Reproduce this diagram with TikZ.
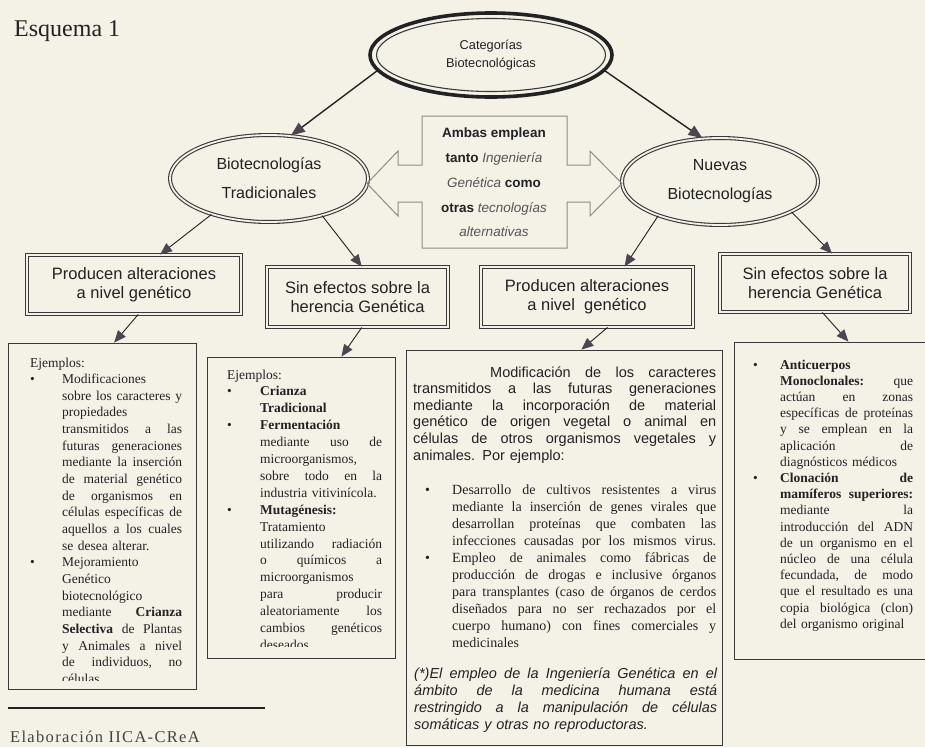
\documentclass[tikz,border=0pt]{standalone}
\usepackage{fontspec}
\setmainfont{Liberation Serif}
\setsansfont{Liberation Sans}
\usetikzlibrary{shapes.geometric,arrows.meta,calc}
\setlength\parindent{0pt}
\definecolor{bg}{HTML}{F4F1E7}
\definecolor{ink}{HTML}{222222}
\definecolor{edge}{HTML}{3A3838}
\definecolor{tipc}{HTML}{4E4452}
\definecolor{boxg}{HTML}{8E8C88}
\definecolor{itg}{HTML}{555555}
\ExplSyntaxOn
\seq_new:N \l_my_words_seq
\NewDocumentCommand \Jl { m m }
  {
    \mode_leave_vertical:
    \seq_set_split:Nnn \l_my_words_seq { ~ } { #2 }
    \hbox_to_wd:nn { #1 pt } { \seq_use:Nn \l_my_words_seq { \hskip 0.2em plus 1fill \relax } }
  }
\ExplSyntaxOff
\newcommand{\Ll}[2]{\leavevmode\makebox[#1pt][l]{#2}}
\newcommand{\Bu}[1]{\leavevmode\makebox[#1pt][l]{\textbullet}}
\newcommand{\Sk}[1]{\hspace*{#1pt}}
\tikzset{
  arr/.style={draw=ink, line width=0.9pt, -{Triangle[length=12pt,width=10pt,fill=tipc,color=tipc]}},
  toparr/.style={arr, line width=1.4pt, -{Triangle[length=14pt,width=11pt,fill=tipc,color=tipc]}},
  titlebox/.style={rectangle, draw=edge, line width=0.9pt, double=bg, double distance=2.2pt, inner sep=0pt,
    font=\sffamily\fontsize{16.5}{19}\selectfont, align=center, text=ink},
  ell/.style={ellipse, draw=edge, line width=1.1pt, double=bg, double distance=1.8pt, inner sep=0pt,
    font=\sffamily\fontsize{16}{29}\selectfont, align=center, text=ink},
  exbox/.style={rectangle, draw=edge, line width=0.8pt, inner sep=0pt},
  body/.style={anchor=base west, inner sep=0pt, align=left, text=ink},
  ser/.style={body, font=\rmfamily\fontsize{13.5}{16.65}\selectfont},
}
\begin{document}
\begin{tikzpicture}[x=1pt,y=-1pt]
\useasboundingbox (0,0) rectangle (925,747);
\clip (0,0) rectangle (925,747);
\fill[bg] (0,0) rectangle (925,747);

% title
\node[anchor=base west, inner sep=0pt, text=ink, font=\rmfamily\fontsize{24}{24}\selectfont] (title) at (14,36) {Esquema 1};

% top ellipse
\node[ellipse, draw=ink, line width=3.6pt, minimum width=242pt, minimum height=84pt, inner sep=0pt,
      font=\sffamily\fontsize{12.8}{18}\selectfont, align=center, text=ink] (top) at (491,55) {Categorías\\Biotecnológicas};
\draw[line width=1.1pt, edge] (top.center) ellipse [x radius=114.5pt, y radius=36.5pt];

% second level ellipses
\node[ell, minimum width=198pt, minimum height=87pt] (left) at (269,178.5) {Biotecnologías\\Tradicionales};
\node[ell, minimum width=196pt, minimum height=87pt] (right) at (720,181.5) {Nuevas\\Biotecnologías};

% central double arrow box
\draw[boxg, line width=1pt, line join=miter]
  (422,116) -- (567,116) -- (567,165) -- (590,165) -- (590,151) -- (622,183.5) -- (590,216) -- (590,202)
  -- (567,202) -- (567,248) -- (422,248) -- (422,202) -- (398,202) -- (398,216) -- (367,183.5)
  -- (398,151) -- (398,165) -- (422,165) -- cycle;
\node[align=center, inner sep=0pt, text=ink, font=\sffamily\fontsize{13.5}{24.75}\selectfont] (amb) at (494,182.5)
  {\textbf{Ambas emplean}\\\textbf{tanto} \textcolor{itg}{\textit{Ingeniería}}\\\textcolor{itg}{\textit{Genética}} \textbf{como}\\\textbf{otras} \textcolor{itg}{\textit{tecnologías}}\\\textcolor{itg}{\textit{alternativas}}};

% title boxes
\node[titlebox, minimum width=214pt, minimum height=59pt] (t1) at (134,284.5) {Producen alteraciones\\a nivel genético};
\node[titlebox, minimum width=181pt, minimum height=60pt] (t2) at (357.5,297) {Sin efectos sobre la\\herencia Genética};
\node[titlebox, minimum width=212pt, minimum height=60pt] (t3) at (587,297) {Producen alteraciones\\a nivel \ genético};
\node[titlebox, minimum width=190pt, minimum height=58pt] (t4) at (815,283) {Sin efectos sobre la\\herencia Genética};

% example boxes
\node[exbox, minimum width=188pt, minimum height=346pt] (e1) at (102,516) {};
\node[exbox, minimum width=188pt, minimum height=301pt] (e2) at (301,507.5) {};
\node[exbox, minimum width=316pt, minimum height=395pt] (e3) at (564,547.5) {};
\node[exbox, minimum width=201pt, minimum height=317pt] (e4) at (834.5,500.5) {};

% arrows
\draw[toparr] (top.188) -- (left.63);
\draw[toparr] (top.352) -- (right.112);
\draw[arr] (left.212) -- (t1.49);
\draw[arr] (left.325) -- (t2.82);
\draw[arr] (right.209) -- (t3.39);
\draw[arr] (right.337) -- (t4.60);
\draw[arr] (t1.278) -- (e1.86);
\draw[arr] (t2.278) -- (e2.75);
\draw[arr] (t3.304) -- (e3.85);
\draw[arr] (t4.284) -- (e4.85);

% box 1 text
\begin{scope}
\clip (8,343) rectangle (196,680);
\node[ser, text width=152pt] (x1) at (30,367) {Ejemplos:\\
\Bu{32}\Ll{120}{Modificaciones}\\
\Sk{32}\Jl{120}{sobre los caracteres y}\\
\Sk{32}\Ll{120}{propiedades}\\
\Sk{32}\Jl{120}{transmitidos a las}\\
\Sk{32}\Jl{120}{futuras generaciones}\\
\Sk{32}\Jl{120}{mediante la inserción}\\
\Sk{32}\Jl{120}{de material genético}\\
\Sk{32}\Jl{120}{de organismos en}\\
\Sk{32}\Jl{120}{células específicas de}\\
\Sk{32}\Jl{120}{aquellos a los cuales}\\
\Sk{32}\Ll{120}{se desea alterar.}\\
\Bu{32}\Ll{120}{Mejoramiento}\\
\Sk{32}\Ll{120}{Genético}\\
\Sk{32}\Ll{120}{biotecnológico}\\
\Sk{32}\Jl{120}{mediante \textbf{Crianza}}\\
\Sk{32}\Jl{120}{\textbf{Selectiva} de Plantas}\\
\Sk{32}\Jl{120}{y Animales a nivel}\\
\Sk{32}\Jl{120}{de individuos, no}\\
\Sk{32}\Ll{120}{células}};
\end{scope}

% box 2 text
\begin{scope}
\clip (207,357) rectangle (395,646);
\node[ser, text width=155pt, font=\rmfamily\fontsize{13.5}{16.9}\selectfont] (x2) at (227,379) {Ejemplos:\\
\Bu{33}\Ll{122}{\textbf{Crianza}}\\
\Sk{33}\Ll{122}{\textbf{Tradicional}}\\
\Bu{33}\Ll{122}{\textbf{Fermentación}}\\
\Sk{33}\Jl{122}{mediante uso de}\\
\Sk{33}\Ll{122}{microorganismos,}\\
\Sk{33}\Jl{122}{sobre todo en la}\\
\Sk{33}\Ll{122}{industria vitivinícola.}\\
\Bu{33}\Ll{122}{\textbf{Mutagénesis:}}\\
\Sk{33}\Ll{122}{Tratamiento}\\
\Sk{33}\Jl{122}{utilizando radiación}\\
\Sk{33}\Jl{122}{o químicos a}\\
\Sk{33}\Ll{122}{microorganismos}\\
\Sk{33}\Jl{122}{para producir}\\
\Sk{33}\Jl{122}{aleatoriamente los}\\
\Sk{33}\Jl{122}{cambios genéticos}\\
\Sk{33}\Ll{122}{deseados}};
\end{scope}

% box 3 text
\node[body, text width=303pt, font=\sffamily\fontsize{14.5}{16.6}\selectfont] (x3a) at (413,377) {%
\Sk{77}\Jl{226}{Modificación de los caracteres}\\
\Jl{303}{transmitidos a las futuras generaciones}\\
\Jl{303}{mediante la incorporación de material}\\
\Jl{303}{genético de origen vegetal o animal en}\\
\Jl{303}{células de otros organismos vegetales y}\\
\Ll{303}{animales. Por ejemplo:}};
\node[body, text width=291pt, font=\rmfamily\fontsize{14}{17.1}\selectfont] (x3b) at (425,494) {%
\Bu{27}\Jl{264}{Desarrollo de cultivos resistentes a virus}\\
\Sk{27}\Jl{264}{mediante la inserción de genes virales que}\\
\Sk{27}\Jl{264}{desarrollan proteínas que combaten las}\\
\Sk{27}\Jl{264}{infecciones causadas por los mismos virus.}\\
\Bu{27}\Jl{264}{Empleo de animales como fábricas de}\\
\Sk{27}\Jl{264}{producción de drogas e inclusive órganos}\\
\Sk{27}\Jl{264}{para transplantes (caso de órganos de cerdos}\\
\Sk{27}\Jl{264}{diseñados para no ser rechazados por el}\\
\Sk{27}\Jl{264}{cuerpo humano) con fines comerciales y}\\
\Sk{27}\Ll{264}{medicinales}};
\node[body, text width=303pt, font=\sffamily\itshape\fontsize{14.5}{17.3}\selectfont] (x3c) at (414,678) {%
\Jl{303}{(*)El empleo de la Ingeniería Genética en el}\\
\Jl{303}{ámbito de la medicina humana está}\\
\Jl{303}{restringido a la manipulación de células}\\
\Ll{303}{somáticas y otras no reproductoras.}};

% box 4 text
\node[ser, text width=160pt, font=\rmfamily\fontsize{13.5}{16.2}\selectfont] (x4) at (753,369) {%
\Bu{27}\Ll{133}{\textbf{Anticuerpos}}\\
\Sk{27}\Jl{133}{\textbf{Monoclonales:} que}\\
\Sk{27}\Jl{133}{actúan en zonas}\\
\Sk{27}\Jl{133}{específicas de proteínas}\\
\Sk{27}\Jl{133}{y se emplean en la}\\
\Sk{27}\Jl{133}{aplicación de}\\
\Sk{27}\Ll{133}{diagnósticos médicos}\\
\Bu{27}\Jl{133}{\textbf{Clonación} \textbf{de}}\\
\Sk{27}\Jl{133}{\textbf{mamíferos} \textbf{superiores:}}\\
\Sk{27}\Jl{133}{mediante la}\\
\Sk{27}\Jl{133}{introducción del ADN}\\
\Sk{27}\Jl{133}{de un organismo en el}\\
\Sk{27}\Jl{133}{núcleo de una célula}\\
\Sk{27}\Jl{133}{fecundada, de modo}\\
\Sk{27}\Jl{133}{que el resultado es una}\\
\Sk{27}\Jl{133}{copia biológica (clon)}\\
\Sk{27}\Ll{133}{del organismo original}};

% footer
\draw[ink, line width=1.6pt] (8,708) -- (265,708);
\node[anchor=base west, inner sep=0pt, text=ink!85, font=\rmfamily\fontsize{16.5}{18}\selectfont\addfontfeatures{LetterSpace=8}] (credit) at (10,742) {Elaboración IICA-CReA};
\end{tikzpicture}
\end{document}
